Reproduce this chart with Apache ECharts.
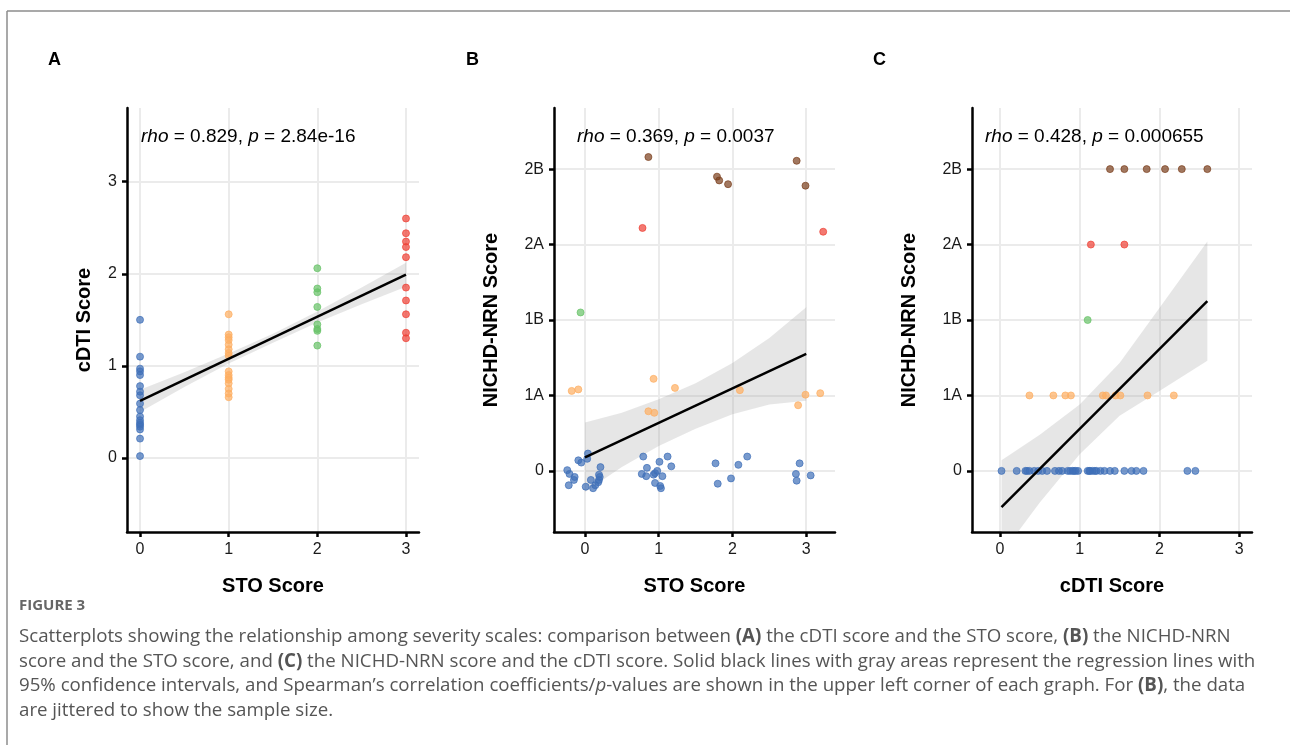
<!DOCTYPE html>
<html>
<head>
<meta charset="utf-8">
<title>Figure 3</title>
<script src="https://cdn.jsdelivr.net/npm/echarts@6/dist/echarts.min.js"></script>
<style>
    html, body { margin: 0; padding: 0; background: #fff; }
    #main { width: 1290px; height: 745px; }
</style>
</head>
<body>
<div id="main"></div>
<script>
// 分级标签 (NICHD-NRN)
var nichdLabels = ['0', '1A', '1B', '2A', '2B'];
var stoTicks = [0, 1, 2, 3];
var cdtiTicks = [0, 1, 2, 3];
var nichdTicks = [0, 1, 2, 3, 4];

// A: cDTI score vs STO score
var aBlueX = [0, 0, 0, 0, 0, 0, 0, 0, 0, 0, 0, 0, 0, 0, 0, 0, 0, 0];
var aBlueY = [1.50, 1.10, 0.97, 0.94, 0.90, 0.78, 0.72, 0.68, 0.59, 0.52, 0.45, 0.41, 0.38, 0.36, 0.34, 0.31, 0.21, 0.02];
var aOrangeX = [1, 1, 1, 1, 1, 1, 1, 1, 1, 1, 1, 1, 1, 1, 1, 1];
var aOrangeY = [1.56, 1.34, 1.31, 1.28, 1.23, 1.18, 1.14, 1.11, 0.94, 0.90, 0.87, 0.85, 0.81, 0.75, 0.70, 0.66];
var aGreenX = [2, 2, 2, 2, 2, 2, 2, 2];
var aGreenY = [2.06, 1.84, 1.80, 1.64, 1.45, 1.40, 1.38, 1.22];
var aRedX = [3, 3, 3, 3, 3, 3, 3, 3, 3, 3];
var aRedY = [2.60, 2.44, 2.35, 2.29, 2.18, 1.85, 1.71, 1.56, 1.36, 1.30];
var aFitX = [0, 3];
var aFitY = [0.62, 1.99];
var aBandX = [0, 0.5, 1, 1.5, 2, 2.5, 3];
var aBandLo = [0.50, 0.77, 1.025, 1.25, 1.47, 1.67, 1.86];
var aBandHi = [0.74, 0.93, 1.135, 1.35, 1.59, 1.85, 2.12];

// B: NICHD-NRN score vs STO score (jittered)
var bBlueX = [-0.24, -0.21, -0.14, -0.15, -0.22, -0.09, -0.05, 0.04, 0.03, 0.21, 0.19, 0.08, 0.20, 0.19, 0.18, 0.14, 0.11, 0.01,
    0.79, 0.84, 0.77, 0.83, 0.93, 0.95, 0.98, 1.01, 1.12, 1.17, 1.05, 0.95, 1.02, 1.03,
    1.77, 1.80, 1.98, 2.08, 2.20,
    2.91, 2.86, 2.87, 3.06];
var bBlueY = [0.01, -0.04, -0.08, -0.12, -0.19, 0.14, 0.11, 0.23, 0.16, 0.05, -0.05, -0.12, -0.08, -0.12, -0.15, -0.19, -0.23, -0.21,
    0.19, 0.04, -0.04, -0.07, -0.05, -0.03, 0.00, 0.12, 0.19, 0.06, -0.07, -0.16, -0.20, -0.23,
    0.10, -0.17, -0.10, 0.08, 0.19,
    0.10, -0.04, -0.13, -0.06];
var bOrangeX = [-0.18, -0.09, 0.93, 1.22, 0.86, 0.94, 2.10, 2.99, 3.19, 2.89];
var bOrangeY = [1.06, 1.08, 1.22, 1.10, 0.79, 0.77, 1.07, 1.01, 1.03, 0.87];
var bGreenX = [-0.06];
var bGreenY = [2.10];
var bRedX = [0.78, 3.23];
var bRedY = [3.22, 3.17];
var bBrownX = [0.86, 2.87, 1.79, 1.82, 1.94, 2.99];
var bBrownY = [4.16, 4.11, 3.90, 3.85, 3.80, 3.78];
var bFitX = [0, 3];
var bFitY = [0.18, 1.55];
var bBandX = [0, 0.5, 1, 1.5, 2, 2.5, 3];
var bBandLo = [-0.28, 0.05, 0.33, 0.56, 0.75, 0.88, 0.93];
var bBandHi = [0.64, 0.77, 0.95, 1.16, 1.43, 1.76, 2.17];

// C: NICHD-NRN score vs cDTI score
var cBlueX = [0.02, 0.21, 0.32, 0.34, 0.37, 0.43, 0.48, 0.53, 0.59, 0.69, 0.74, 0.78, 0.85, 0.88, 0.91, 0.93, 0.95, 0.98,
    1.10, 1.12, 1.13, 1.16, 1.19, 1.21, 1.26, 1.31, 1.38, 1.44, 1.56, 1.65, 1.71, 1.80, 2.35, 2.45];
var cBlueY = [0, 0, 0, 0, 0, 0, 0, 0, 0, 0, 0, 0, 0, 0, 0, 0, 0, 0,
    0, 0, 0, 0, 0, 0, 0, 0, 0, 0, 0, 0, 0, 0, 0, 0];
var cOrangeX = [0.37, 0.67, 0.82, 0.89, 1.29, 1.33, 1.45, 1.51, 1.85, 2.18];
var cOrangeY = [1, 1, 1, 1, 1, 1, 1, 1, 1, 1];
var cGreenX = [1.10];
var cGreenY = [2];
var cRedX = [1.14, 1.56];
var cRedY = [3, 3];
var cBrownX = [1.38, 1.56, 1.84, 2.07, 2.28, 2.60];
var cBrownY = [4, 4, 4, 4, 4, 4];
var cFitX = [0.02, 2.60];
var cFitY = [-0.48, 2.25];
var cBandX = [0.02, 0.5, 1, 1.5, 2, 2.6];
var cBandLo = [-1.10, -0.42, 0.22, 0.73, 1.06, 1.46];
var cBandHi = [0.14, 0.48, 0.88, 1.43, 2.16, 3.04];

var colors = {
    blue: '#3f6fb8',
    orange: '#fdae61',
    green: '#66c266',
    red: '#ee4035',
    brown: '#7a3e1d'
};
var axisFont = 'Liberation Sans, Arial, sans-serif';
var captionFont = 'Open Sans, sans-serif';

function pairs(xs, ys) {
    var out = [];
    for (var i = 0; i < xs.length; i++) {
        out.push([xs[i], ys[i]]);
    }
    return out;
}

function scatter(idx, xs, ys, color) {
    return {
        type: 'scatter',
        xAxisIndex: idx,
        yAxisIndex: idx,
        symbolSize: 7,
        data: pairs(xs, ys),
        itemStyle: {color: color, opacity: 0.7, borderColor: color, borderWidth: 1},
        emphasis: {disabled: true},
        silent: true
    };
}

// 置信区间带
function band(idx, xs, lo, hi) {
    var rows = [];
    for (var i = 0; i < xs.length; i++) {
        rows.push([xs[i], lo[i], hi[i]]);
    }
    return {
        type: 'custom',
        xAxisIndex: idx,
        yAxisIndex: idx,
        data: rows,
        silent: true,
        renderItem: function (params, api) {
            if (params.dataIndex !== 0) {
                return;
            }
            var pts = [];
            for (var i = 0; i < rows.length; i++) {
                pts.push(api.coord([rows[i][0], rows[i][2]]));
            }
            for (var j = rows.length - 1; j >= 0; j--) {
                pts.push(api.coord([rows[j][0], rows[j][1]]));
            }
            var cs = params.coordSys;
            return {
                type: 'polygon',
                shape: {points: pts},
                style: {fill: 'rgba(150,150,150,0.24)'},
                clipPath: {type: 'rect', shape: {x: cs.x, y: cs.y, width: cs.width, height: cs.height}}
            };
        }
    };
}

function fitLine(idx, xs, ys) {
    return {
        type: 'line',
        xAxisIndex: idx,
        yAxisIndex: idx,
        data: pairs(xs, ys),
        symbol: 'none',
        lineStyle: {color: '#000', width: 2.5},
        silent: true
    };
}

function axis(idx, min, max, ticks, name, nameGap, isY, fmt) {
    return {
        type: 'value',
        gridIndex: idx,
        min: min,
        max: max,
        name: name,
        nameLocation: 'middle',
        nameGap: nameGap,
        nameTextStyle: {fontSize: 20, fontWeight: 'bold', color: '#000', fontFamily: axisFont},
        axisLine: {show: true, onZero: false, lineStyle: {color: '#000', width: 2.5}},
        axisTick: {show: true, length: 5, customValues: ticks, lineStyle: {color: '#000', width: 2.5}},
        axisLabel: {
            customValues: ticks,
            fontSize: 16,
            color: '#1a1a1a',
            fontFamily: axisFont,
            margin: 10,
            formatter: fmt || function (v) { return String(v); }
        },
        splitLine: {show: true, lineStyle: {color: '#ebebeb', width: 2}}
    };
}

function nichdFmt(v) {
    return nichdLabels[Math.round(v)];
}

function richText(x, y, text, font, rich, color) {
    return {
        type: 'text',
        left: x,
        top: y,
        z: 100,
        style: {
            text: text,
            fill: color || '#000',
            font: font,
            rich: rich || {}
        }
    };
}

var italic19 = {i: {fontStyle: 'italic', fontSize: 19, fontFamily: axisFont, fill: '#000'}};
var capSize = 18.7;
var capRich = {
    b: {fontWeight: 'bold', fontSize: capSize, fontFamily: captionFont, fill: '#555'},
    i: {fontStyle: 'italic', fontSize: capSize, fontFamily: captionFont, fill: '#555'}
};

var captionLines = [
    'Scatterplots showing the relationship among severity scales: comparison between {b|(A)} the cDTI score and the STO score, {b|(B)} the NICHD-NRN',
    'score and the STO score, and {b|(C)} the NICHD-NRN score and the cDTI score. Solid black lines with gray areas represent the regression lines with',
    '95% confidence intervals, and Spearman\u2019s correlation coefficients/{i|p}-values are shown in the upper left corner of each graph. For {b|(B)}, the data',
    'are jittered to show the sample size.'
];

var graphics = [
    {type: 'line', shape: {x1: 7, y1: 11, x2: 1290, y2: 11}, style: {stroke: '#8c8c8c', lineWidth: 1.5}},
    {type: 'line', shape: {x1: 7, y1: 11, x2: 7, y2: 745}, style: {stroke: '#8c8c8c', lineWidth: 1.5}},
    richText(48, 51, 'A', 'bold 18px ' + axisFont),
    richText(466, 51, 'B', 'bold 18px ' + axisFont),
    richText(873, 51, 'C', 'bold 18px ' + axisFont),
    richText(141, 127, '{i|rho} = 0.829, {i|p} = 2.84e-16', '19px ' + axisFont, italic19),
    richText(577, 127, '{i|rho} = 0.369, {i|p} = 0.0037', '19px ' + axisFont, italic19),
    richText(985, 127, '{i|rho} = 0.428, {i|p} = 0.000655', '19px ' + axisFont, italic19),
    richText(19, 598, 'FIGURE 3', 'bold 15px ' + captionFont, null, '#666')
];
for (var k = 0; k < captionLines.length; k++) {
    graphics.push(richText(19, 627 + k * 24.7, captionLines[k], capSize + 'px ' + captionFont, capRich, '#555'));
}

var option = {
    animation: false,
    backgroundColor: '#fff',
    grid: [
        {left: 127, top: 108, width: 292, height: 424},
        {left: 554, top: 108, width: 281, height: 424},
        {left: 972, top: 108, width: 280, height: 424}
    ],
    xAxis: [
        axis(0, -0.147, 3.147, stoTicks, 'STO Score', 44, false),
        axis(1, -0.42, 3.39, stoTicks, 'STO Score', 44, false),
        axis(2, -0.35, 3.16, cdtiTicks, 'cDTI Score', 44, false)
    ],
    yAxis: [
        axis(0, -0.804, 3.80, cdtiTicks, 'cDTI Score', 33, true),
        axis(1, -0.81, 4.81, nichdTicks, 'NICHD-NRN Score', 53, true, nichdFmt),
        axis(2, -0.81, 4.81, nichdTicks, 'NICHD-NRN Score', 53, true, nichdFmt)
    ],
    series: [
        scatter(0, aBlueX, aBlueY, colors.blue),
        scatter(0, aOrangeX, aOrangeY, colors.orange),
        scatter(0, aGreenX, aGreenY, colors.green),
        scatter(0, aRedX, aRedY, colors.red),
        band(0, aBandX, aBandLo, aBandHi),
        fitLine(0, aFitX, aFitY),

        scatter(1, bBlueX, bBlueY, colors.blue),
        scatter(1, bOrangeX, bOrangeY, colors.orange),
        scatter(1, bGreenX, bGreenY, colors.green),
        scatter(1, bRedX, bRedY, colors.red),
        scatter(1, bBrownX, bBrownY, colors.brown),
        band(1, bBandX, bBandLo, bBandHi),
        fitLine(1, bFitX, bFitY),

        scatter(2, cBlueX, cBlueY, colors.blue),
        scatter(2, cOrangeX, cOrangeY, colors.orange),
        scatter(2, cGreenX, cGreenY, colors.green),
        scatter(2, cRedX, cRedY, colors.red),
        scatter(2, cBrownX, cBrownY, colors.brown),
        band(2, cBandX, cBandLo, cBandHi),
        fitLine(2, cFitX, cFitY)
    ],
    graphic: graphics
};

var chart = echarts.init(document.getElementById('main'));
chart.setOption(option);
</script>
</body>
</html>
